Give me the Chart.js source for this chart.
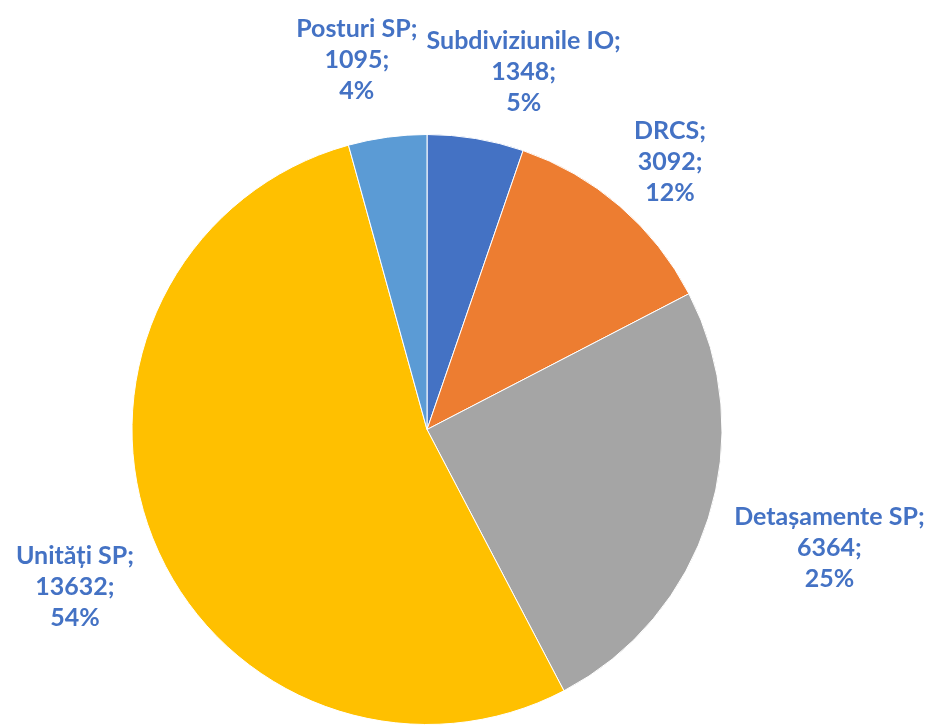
<!DOCTYPE html>
<html><head><meta charset="utf-8">
<script src="https://cdn.jsdelivr.net/npm/chart.js@4"></script>
<style>html,body{margin:0;padding:0;background:#fff}#wrap{width:931px;height:725px}</style>
</head><body><div id="wrap"><canvas id="c" width="931" height="725"></canvas></div>
<script>
const categories = ["Subdiviziunile IO", "DRCS", "Detașamente SP", "Unități SP", "Posturi SP"];
const values = [1348, 3092, 6364, 13632, 1095];
const colors = ["#4472C4", "#ED7D31", "#A5A5A5", "#FFC000", "#5B9BD5"];

// percentages rounded so they sum to 100 (largest remainder)
function roundedPercents(vals) {
  const total = vals.reduce((a, b) => a + b, 0);
  const raw = vals.map(v => v / total * 100);
  const fl = raw.map(Math.floor);
  let left = 100 - fl.reduce((a, b) => a + b, 0);
  raw.map((r, i) => [r - fl[i], i]).sort((a, b) => b[0] - a[0]).forEach(([, i]) => { if (left > 0) { fl[i]++; left--; } });
  return fl;
}
const percents = roundedPercents(values);

const labelPlugin = {
  id: "outLabels",
  afterDatasetsDraw(chart, args, opts) {
    const ctx = chart.ctx;
    const meta = chart.getDatasetMeta(0);
    ctx.save();
    ctx.font = opts.font;
    ctx.fillStyle = opts.color;
    ctx.textAlign = "center";
    ctx.textBaseline = "middle";
    const lh = opts.lineHeight;
    meta.data.forEach((arc, i) => {
      const mid = (arc.startAngle + arc.endAngle) / 2;
      const dx = Math.cos(mid), dy = Math.sin(mid);
      const lines = [categories[i] + ";", values[i] + ";", percents[i] + "%"];
      const w = Math.max(...lines.map(l => ctx.measureText(l).width));
      const h = lines.length * lh;
      const g = arc.outerRadius + opts.gap;
      const n = opts.nudge[i] || [0, 0];
      const cx = arc.x + g * dx + Math.sign(dx) * (w / 2) * Math.abs(dx) + n[0];
      const cy = arc.y + g * dy + Math.sign(dy) * (h / 2) * Math.abs(dy) + n[1];
      lines.forEach((l, k) => ctx.fillText(l, cx, cy + (k - (lines.length - 1) / 2) * lh));
    });
    ctx.restore();
  }
};

new Chart(document.getElementById("c"), {
  type: "pie",
  data: { labels: categories, datasets: [{ data: values, backgroundColor: colors, borderColor: "#ffffff", borderWidth: 1 }] },
  options: {
    responsive: false, animation: false,
    layout: { padding: { top: 134, bottom: 0, left: 131, right: 208 } },
    plugins: {
      legend: { display: false }, tooltip: { enabled: false },
      outLabels: {
        font: "bold 25px Lato", color: "#4472C4", lineHeight: 31, gap: 18,
        nudge: [[29, -3], [15, 5], [13, 10], [-6, 25], [-20, -13]]
      }
    }
  },
  plugins: [labelPlugin]
});
</script></body></html>
